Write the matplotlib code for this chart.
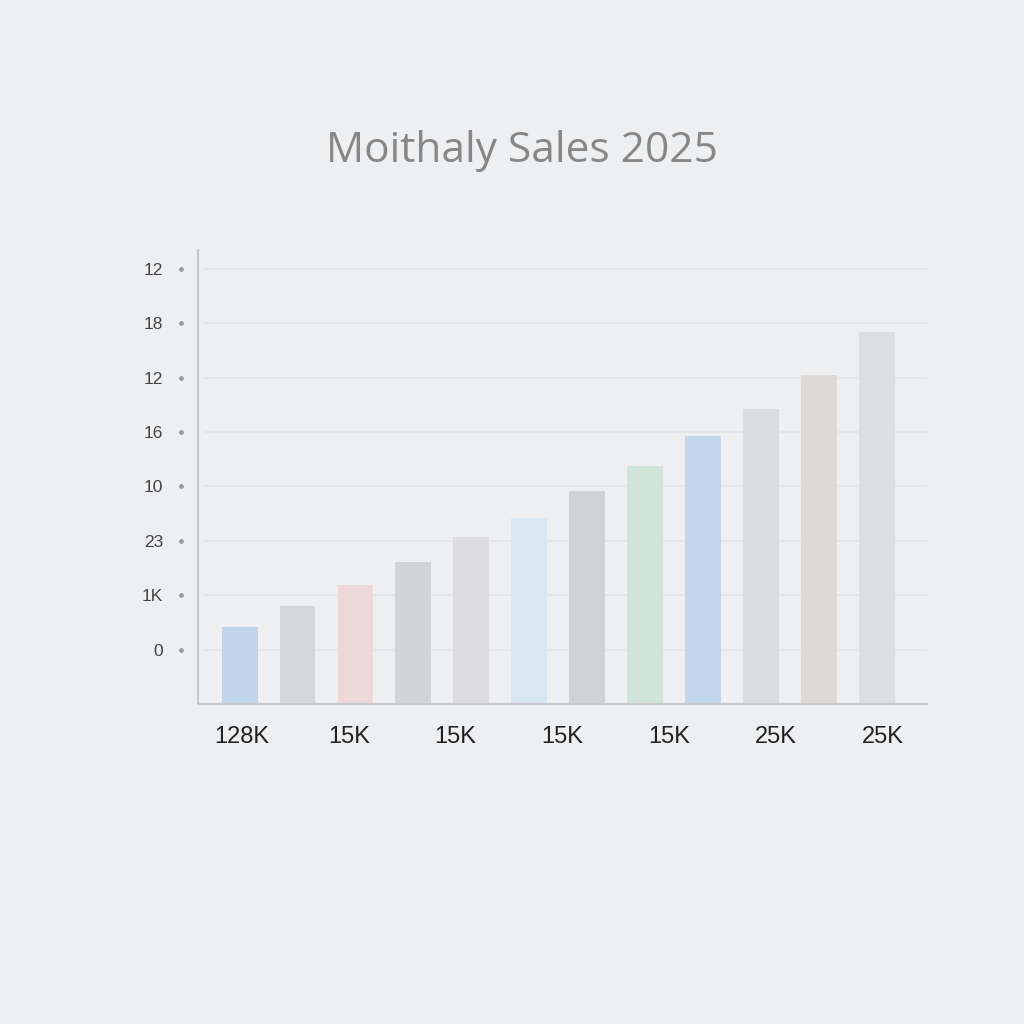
import matplotlib.pyplot as plt
import numpy as np

# Bar values (arbitrary units where 1 unit = one grid step)
months = ['Jan', 'Feb', 'Mar', 'Apr', 'May', 'Jun',
          'Jul', 'Aug', 'Sep', 'Oct', 'Nov', 'Dec']
sales = [1.42, 1.80, 2.19, 2.61, 3.07, 3.42, 3.92, 4.38, 4.93, 5.42, 6.05, 6.84]

bar_colors = ['#c0d5ea', '#d6d7da', '#ecd8d6', '#d3d4d7', '#dcdcdf', '#d9e7f1',
              '#d1d2d5', '#d0e4da', '#c2d7ec', '#dbdcdf', '#dcd9d7', '#dddee1']

ytick_values = [1, 2, 3, 4, 5, 6, 7, 8]
ytick_labels = ['0', '1K', '23', '10', '16', '12', '18', '12']
xtick_labels = ['128K', '15K', '15K', '15K', '15K', '25K', '25K']

title = 'Moithaly Sales 2025'

bg = '#eeeff1'

fig = plt.figure(figsize=(10.24, 10.24), dpi=100, facecolor=bg)
ax = fig.add_axes([0.1934, 0.3125, 0.7119, 0.4434])
ax.set_facecolor(bg)

x = np.arange(len(months))
ax.bar(x, sales, width=0.62, color=bar_colors, zorder=2)

ax.set_xlim(-0.716, 11.86)
ax.set_ylim(0, 8.35)

# horizontal grid
for v in ytick_values:
    ax.axhline(v, xmin=0.01, xmax=1, color='#e4e5e8', lw=1.2, zorder=1)

# y ticks with little dots
ax.set_yticks(ytick_values)
ax.set_yticklabels(ytick_labels, fontsize=12.5, color='#444444',
                   family=['Liberation Sans', 'DejaVu Sans'])
ax.tick_params(axis='y', length=0, pad=25)
ax.scatter(np.full(len(ytick_values), -0.023), ytick_values, s=6,
           color='#9a9a9a', transform=ax.get_yaxis_transform(),
           clip_on=False, zorder=3)

# x ticks (labels don't line up with bars in the original)
ax.set_xticks(np.linspace(0.04, 11.1, len(xtick_labels)))
ax.set_xticklabels(xtick_labels, fontsize=17, color='#222222',
                   family=['Liberation Sans', 'DejaVu Sans'])
ax.tick_params(axis='x', length=0, pad=16)

for side in ['top', 'right']:
    ax.spines[side].set_visible(False)
ax.spines['left'].set_color('#c8c9cc')
ax.spines['left'].set_linewidth(1.5)
ax.spines['bottom'].set_color('#c8c9cc')
ax.spines['bottom'].set_linewidth(1.5)

fig.text(0.51, 0.853, title, ha='center', va='center', fontsize=30.5,
         color='#878787', family=['Open Sans', 'DejaVu Sans'])

fig.savefig('out.png', dpi=100, facecolor=bg)
